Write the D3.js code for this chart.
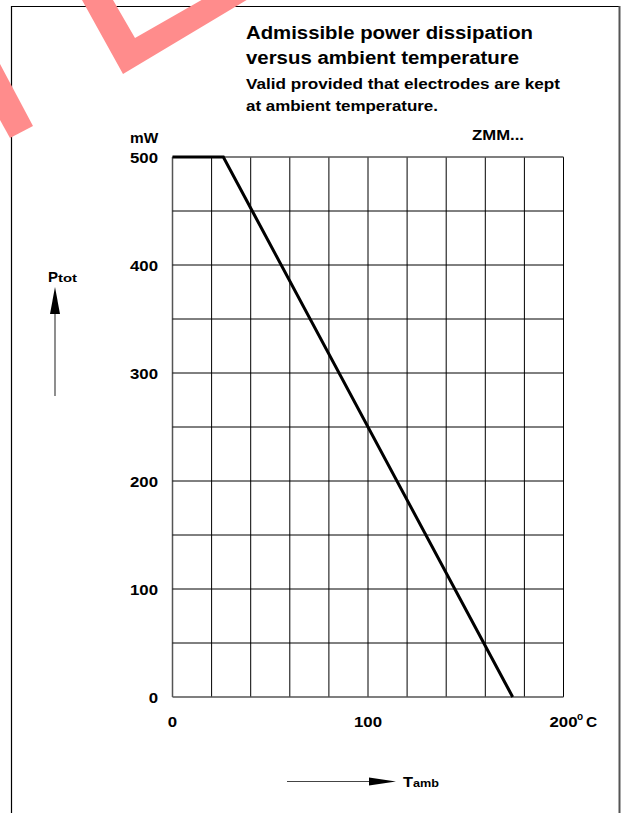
<!doctype html>
<meta charset="utf-8">
<style>
body { margin: 0; background: #fff; }
text { font-family: "Liberation Sans", Arial, sans-serif; font-weight: bold; fill: #000; }
</style>
<script src="https://d3js.org/d3.v7.min.js"></script>
<body>
<svg id="chart"></svg>
<script>
// derating curve: ambient temp (degC) -> max power (mW)
var tempC = [0, 26, 174];
var powerMW = [500, 500, 0];
var yTicks = [0, 100, 200, 300, 400, 500];
var xTicks = [0, 100, 200];
var titleLines = ["Admissible power dissipation", "versus ambient temperature"];
var noteLines = ["Valid provided that electrodes are kept", "at ambient temperature."];

var width = 623, height = 813;
var svg = d3.select("#chart").attr("width", width).attr("height", height);

var x = d3.scaleLinear().domain([0, 200]).range([172.5, 563.5]);
var y = d3.scaleLinear().domain([0, 500]).range([697, 157]);

// the original lettering is a bit wider than Liberation Sans, stretch it
function stretch(sel, k) {
  sel.each(function() {
    var w = this.getComputedTextLength();
    d3.select(this).attr("textLength", w * k).attr("lengthAdjust", "spacingAndGlyphs");
  });
}

// outer frame (open at the bottom)
svg.append("path")
  .attr("d", "M11.5,813 V6.5 H619.5")
  .attr("fill", "none").attr("stroke", "#000").attr("stroke-width", 1.2);
svg.append("line")
  .attr("x1", 619.5).attr("x2", 619.5).attr("y1", 6).attr("y2", 813)
  .attr("stroke", "#555").attr("stroke-width", 2);

// watermark fragments
var wm = svg.append("g").attr("fill", "#ff8c8c");
wm.append("polygon").attr("points", "82,0 113,0 135,38 205,-2 250,-2 123,74");
wm.append("polygon").attr("points", "0,64 33,126 10,138 0,120");

// grid: 10 columns of 20 degC, 10 rows of 50 mW
var grid = svg.append("g");
grid.selectAll(".v").data(d3.range(0, 201, 20)).enter().append("line")
  .attr("x1", d => x(d)).attr("x2", d => x(d))
  .attr("y1", y(500)).attr("y2", y(0))
  .attr("stroke", d => d === 0 ? "#555" : "#000").attr("stroke-width", d => d === 0 ? 1.5 : 1);
grid.selectAll(".h").data(d3.range(0, 501, 50)).enter().append("line")
  .attr("x1", x(0)).attr("x2", x(200))
  .attr("y1", d => y(d)).attr("y2", d => y(d))
  .attr("stroke", d => (d === 0 || d === 500) ? "#555" : "#000")
  .attr("stroke-width", d => (d === 0 || d === 500) ? 1.5 : 1);

// curve
var line = d3.line().x(d => x(d[0])).y(d => y(d[1]));
svg.append("path")
  .datum(d3.zip(tempC, powerMW))
  .attr("d", line)
  .attr("fill", "none").attr("stroke", "#000").attr("stroke-width", 3);

// y tick labels
svg.selectAll(".yl").data(yTicks).enter().append("text")
  .attr("x", 158).attr("y", d => y(d) + 6)
  .attr("text-anchor", "end").attr("font-size", 14)
  .text(d => d)
  .call(stretch, 1.2);
svg.append("text").attr("x", 130).attr("y", 143).attr("font-size", 14).text("mW")
  .call(stretch, 1.1);

// x tick labels
svg.selectAll(".xl").data(xTicks).enter().append("text")
  .attr("x", d => x(d)).attr("y", 727)
  .attr("text-anchor", "middle").attr("font-size", 14)
  .text(d => d)
  .call(stretch, 1.2);
svg.append("text").attr("x", 577).attr("y", 720).attr("font-size", 10).text("o");
svg.append("text").attr("x", 586).attr("y", 727).attr("font-size", 14).text("C").call(stretch, 1.1);

// titles
var titleW = [287, 273], noteW = [314, 192];
svg.selectAll(".tt").data(titleLines).enter().append("text")
  .attr("x", 246).attr("y", (d, i) => 39 + i * 25)
  .attr("font-size", 18)
  .attr("textLength", (d, i) => titleW[i]).attr("lengthAdjust", "spacingAndGlyphs")
  .text(d => d);
svg.selectAll(".nt").data(noteLines).enter().append("text")
  .attr("x", 246).attr("y", (d, i) => 89 + i * 22)
  .attr("font-size", 15.5)
  .attr("textLength", (d, i) => noteW[i]).attr("lengthAdjust", "spacingAndGlyphs")
  .text(d => d);
svg.append("text").attr("x", 472).attr("y", 140)
  .attr("font-size", 15)
  .attr("textLength", 52).attr("lengthAdjust", "spacingAndGlyphs")
  .text("ZMM...");

// axis captions with arrows
svg.append("text").attr("x", 48).attr("y", 282).attr("font-size", 14)
  .attr("textLength", 10).attr("lengthAdjust", "spacingAndGlyphs").text("P");
svg.append("text").attr("x", 58).attr("y", 282).attr("font-size", 11.5)
  .attr("textLength", 19).attr("lengthAdjust", "spacingAndGlyphs").text("tot");
svg.append("line").attr("x1", 55).attr("x2", 55).attr("y1", 396).attr("y2", 305)
  .attr("stroke", "#444").attr("stroke-width", 1.2);
svg.append("polygon").attr("points", "55,287 50,314 60,314").attr("fill", "#000");

svg.append("line").attr("x1", 287).attr("x2", 375).attr("y1", 781.5).attr("y2", 781.5)
  .attr("stroke", "#444").attr("stroke-width", 1.2);
svg.append("polygon").attr("points", "396,781.5 369,777.5 369,785.5").attr("fill", "#000");
svg.append("text").attr("x", 403).attr("y", 787).attr("font-size", 14)
  .attr("textLength", 10).attr("lengthAdjust", "spacingAndGlyphs").text("T");
svg.append("text").attr("x", 413).attr("y", 787).attr("font-size", 11.5)
  .attr("textLength", 26).attr("lengthAdjust", "spacingAndGlyphs").text("amb");
</script>
</body>
